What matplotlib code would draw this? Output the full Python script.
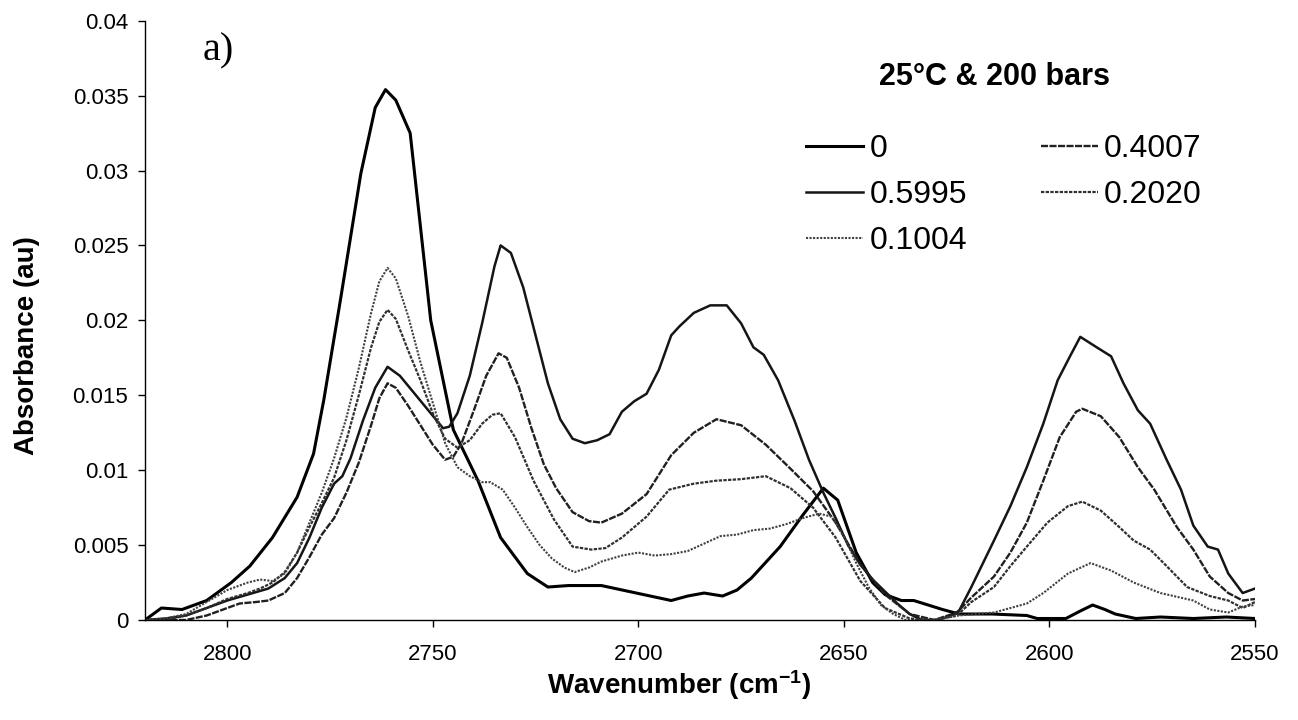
import matplotlib
matplotlib.use('Agg')
import matplotlib.pyplot as plt
from matplotlib.ticker import FuncFormatter

plt.rcParams['font.family'] = ['Liberation Sans', 'DejaVu Sans']
plt.rcParams['mathtext.fontset'] = 'custom'
plt.rcParams['mathtext.rm'] = 'Liberation Sans'
plt.rcParams['mathtext.bf'] = 'Liberation Sans:bold'

# mole fraction 0
wn_0 = [2820, 2816, 2811, 2805, 2799, 2794.5, 2789, 2783, 2779, 2776.5, 2772.5, 2767.5,
        2764, 2761.5, 2759, 2755.5, 2750.5, 2745, 2739, 2733.5, 2727, 2722, 2717, 2709,
        2700.5, 2692, 2688, 2684, 2679.5, 2676, 2672.5, 2665.5, 2660, 2655, 2651.5, 2647,
        2643, 2640, 2636, 2633, 2629.5, 2626, 2622, 2614, 2605.5, 2603, 2596, 2592.5,
        2589.5, 2586.5, 2584, 2579, 2573, 2565, 2557, 2550]
abs_0 = [0, 0.0008, 0.0007, 0.0013, 0.0025, 0.0036, 0.0055, 0.0082, 0.0111, 0.0147, 0.0213, 0.0298,
         0.0342, 0.0354, 0.0347, 0.0325, 0.0200, 0.0127, 0.0093, 0.0055, 0.0031, 0.0022, 0.0023, 0.0023,
         0.0018, 0.0013, 0.0016, 0.0018, 0.0016, 0.0020, 0.0028, 0.0049, 0.0070, 0.0088, 0.0080, 0.0045,
         0.0025, 0.0017, 0.0013, 0.0013, 0.0010, 0.0007, 0.0004, 0.0004, 0.0003, 0.0001, 0.0001, 0.0006,
         0.0010, 0.0007, 0.0004, 0.0001, 0.0002, 0.0001, 0.0002, 0.0001]

# mole fraction 0.5995
wn_5995 = [2820, 2815, 2810, 2805, 2800, 2795, 2790, 2786, 2783, 2780, 2777, 2774, 2772, 2770,
           2767, 2764, 2761, 2758, 2755, 2752, 2749, 2747.5, 2746, 2744, 2741, 2738, 2735, 2733.5,
           2731, 2728, 2725, 2722, 2719, 2716, 2713, 2710, 2707, 2704, 2701, 2698, 2695, 2692,
           2690, 2686.5, 2682.5, 2678.5, 2675, 2672, 2669.5, 2666, 2662, 2658.5, 2655, 2652, 2649,
           2646, 2643, 2640, 2637, 2634, 2631, 2627, 2624, 2622, 2619, 2613.5, 2609.5, 2605.5,
           2601.5, 2598, 2595, 2592.5, 2588.5, 2585, 2582, 2578.5, 2575.5, 2571.5, 2568, 2565,
           2561.5, 2559, 2556.5, 2553, 2550]
abs_5995 = [0, 0.0001, 0.0003, 0.0008, 0.0013, 0.0017, 0.0021, 0.0028, 0.0038, 0.0055, 0.0075, 0.0091, 0.0096, 0.0108,
            0.0133, 0.0155, 0.0169, 0.0163, 0.0153, 0.0143, 0.0133, 0.0128, 0.0129, 0.0138, 0.0163, 0.0198, 0.0236, 0.0250,
            0.0245, 0.0222, 0.0190, 0.0158, 0.0134, 0.0121, 0.0118, 0.0120, 0.0124, 0.0139, 0.0146, 0.0151, 0.0167, 0.0190,
            0.0196, 0.0205, 0.0210, 0.0210, 0.0198, 0.0182, 0.0177, 0.0160, 0.0133, 0.0107, 0.0085, 0.0068, 0.0050,
            0.0037, 0.0027, 0.0019, 0.0011, 0.0004, 0.0, 0.0, 0.0003, 0.0006, 0.0022, 0.0053, 0.0076, 0.0102,
            0.0131, 0.0160, 0.0176, 0.0189, 0.0182, 0.0176, 0.0158, 0.0140, 0.0131, 0.0107, 0.0087, 0.0063,
            0.0049, 0.0047, 0.0031, 0.0018, 0.0021]

# mole fraction 0.4007
wn_4007 = [2820, 2815, 2810, 2805, 2800, 2797, 2793, 2790, 2786, 2783, 2780, 2777, 2774, 2771,
           2768, 2765, 2763, 2761, 2759, 2756, 2753, 2750, 2747, 2745, 2743, 2740, 2737, 2734,
           2732, 2729, 2726, 2723, 2720, 2716, 2712, 2709, 2704, 2698, 2692, 2686.5, 2681, 2675,
           2669, 2663, 2657.5, 2652, 2646, 2640, 2634, 2628, 2622.5, 2619, 2613.5, 2609.5, 2605.5,
           2601.5, 2597.5, 2593.5, 2592, 2587.5, 2583, 2578.5, 2574.5, 2569, 2565, 2561, 2556.5,
           2553, 2550]
abs_4007 = [0, 0, 0, 0.0003, 0.0008, 0.0011, 0.0012, 0.0013, 0.0018, 0.0028, 0.0042, 0.0057, 0.0068, 0.0085,
            0.0105, 0.0130, 0.0148, 0.0158, 0.0155, 0.0143, 0.0130, 0.0117, 0.0107, 0.0109, 0.0118, 0.0140, 0.0163, 0.0178,
            0.0175, 0.0155, 0.0128, 0.0104, 0.0088, 0.0072, 0.0066, 0.0065, 0.0071, 0.0084, 0.0110, 0.0125, 0.0134, 0.0130,
            0.0117, 0.0101, 0.0086, 0.0065, 0.0037, 0.0017, 0.0004, 0.0, 0.0005, 0.0015, 0.0029, 0.0045, 0.0065,
            0.0093, 0.0122, 0.0139, 0.0141, 0.0136, 0.0122, 0.0102, 0.0087, 0.0062, 0.0047, 0.0029, 0.0018,
            0.0013, 0.0014]

# mole fraction 0.2020
wn_2020 = [2820, 2815, 2810, 2805, 2800, 2795, 2792, 2789, 2786, 2783, 2780, 2777, 2774, 2771,
           2768, 2765, 2763, 2761, 2759, 2756, 2753, 2750, 2747, 2744, 2741, 2738, 2735.5, 2733.5,
           2730, 2725.5, 2720.5, 2716, 2711.5, 2708, 2704, 2698, 2692.5, 2686.5, 2681, 2675, 2669,
           2663, 2657.5, 2652, 2646, 2640, 2634, 2628, 2622.5, 2619, 2613.5, 2609.5, 2605.5, 2600.5,
           2595.5, 2592, 2587.5, 2583, 2579.5, 2575.5, 2571.5, 2566.5, 2561, 2556.5, 2553, 2550]
abs_2020 = [0, 0, 0.0003, 0.0008, 0.0014, 0.0018, 0.0021, 0.0025, 0.0032, 0.0045, 0.0062, 0.0078, 0.0095, 0.0120,
            0.0150, 0.0182, 0.0199, 0.0207, 0.0201, 0.0180, 0.0160, 0.0138, 0.0121, 0.0115, 0.0120, 0.0131, 0.0137, 0.0138,
            0.0122, 0.0093, 0.0067, 0.0049, 0.0047, 0.0048, 0.0055, 0.0069, 0.0087, 0.0091, 0.0093, 0.0094, 0.0096,
            0.0088, 0.0075, 0.0055, 0.0026, 0.0008, 0.0001, 0.0, 0.0003, 0.0012, 0.0022, 0.0036, 0.0049, 0.0065,
            0.0076, 0.0079, 0.0073, 0.0062, 0.0053, 0.0047, 0.0036, 0.0022, 0.0016, 0.0013, 0.0008, 0.0012]

# mole fraction 0.1004
wn_1004 = [2820, 2815, 2810, 2805, 2800, 2795, 2792, 2789, 2786, 2783, 2780, 2777, 2774, 2771,
           2768, 2765, 2763, 2761, 2759, 2756, 2753, 2750, 2747, 2744, 2741, 2738, 2736, 2733,
           2730, 2727, 2724, 2721, 2718, 2715.5, 2712, 2709, 2704, 2700, 2696, 2692, 2688, 2684,
           2680, 2676, 2672, 2668, 2664, 2660, 2656, 2653, 2650, 2647, 2644, 2641, 2638, 2635,
           2628, 2622, 2613.5, 2605.5, 2601.5, 2595.5, 2590, 2585, 2579.5, 2573, 2565, 2561,
           2556.5, 2553, 2550]
abs_1004 = [0, 0.0001, 0.0004, 0.0012, 0.0020, 0.0025, 0.0027, 0.0026, 0.0031, 0.0045, 0.0065, 0.0085, 0.0108, 0.0135,
            0.0168, 0.0205, 0.0226, 0.0235, 0.0228, 0.0203, 0.0172, 0.0145, 0.0118, 0.0102, 0.0096, 0.0092, 0.0092, 0.0087,
            0.0075, 0.0062, 0.0050, 0.0041, 0.0035, 0.0032, 0.0035, 0.0039, 0.0043, 0.0045, 0.0043, 0.0044, 0.0046, 0.0051,
            0.0056, 0.0057, 0.0060, 0.0061, 0.0064, 0.0068, 0.0071, 0.0069, 0.0056, 0.0038, 0.0022, 0.0010, 0.0004, 0.0,
            0.0, 0.0003, 0.0005, 0.0011, 0.0018, 0.0031, 0.0038, 0.0033, 0.0025, 0.0018, 0.0013, 0.0007,
            0.0005, 0.0009, 0.0010]

fig = plt.figure(figsize=(12.98, 7.2), dpi=100)
ax = fig.add_axes([145/1298, 1 - 620/720, 1110/1298, 599.3/720])

l0, = ax.plot(wn_0, abs_0, color='black', lw=2.2, label='0')
l5, = ax.plot(wn_5995, abs_5995, color='#151515', lw=1.8, label='0.5995')
l4, = ax.plot(wn_4007, abs_4007, color='#202020', lw=1.7, ls=(0, (3, 0.6)), label='0.4007')
l2, = ax.plot(wn_2020, abs_2020, color='#303030', lw=1.6, ls=(0, (1.5, 0.6)), label='0.2020')
l1, = ax.plot(wn_1004, abs_1004, color='#404040', lw=1.5, ls=(0, (1, 0.7)), label='0.1004')

ax.set_xlim(2820, 2550)
ax.set_ylim(0, 0.04)
ax.set_xticks([2800, 2750, 2700, 2650, 2600, 2550])
ax.set_yticks([i * 0.005 for i in range(9)])
ax.yaxis.set_major_formatter(FuncFormatter(lambda v, p: '%g' % round(v, 3)))
ax.tick_params(direction='out', length=5, width=1, labelsize=16, colors='black')
ax.tick_params(axis='y', pad=7)
ax.tick_params(axis='x', pad=12)
for s in ['top', 'right']:
    ax.spines[s].set_visible(False)
for s in ['left', 'bottom']:
    ax.spines[s].set_linewidth(1)

ax.set_xlabel('Wavenumber (cm$\\mathbf{^{-1}}$)', fontsize=20, fontweight='bold')
ax.xaxis.set_label_coords((679 - 145) / 1110, -(668 - 620) / 599.3)
ax.set_ylabel('Absorbance (au)', fontsize=20, fontweight='bold')
ax.yaxis.set_label_coords(-(145 - 27) / 1110, (620 - 346) / 599.3)
ax.yaxis.label.set_va('center')

ax.legend([l0, l5, l1, l4, l2], ['0', '0.5995', '0.1004', '0.4007', '0.2020'],
          ncol=2, frameon=False, fontsize=23, loc='upper left',
          bbox_to_anchor=(806/1298, 1 - 134/720), bbox_transform=fig.transFigure,
          borderpad=0, borderaxespad=0, handlelength=1.79, handletextpad=0.2,
          columnspacing=2.3, labelspacing=0.5)

fig.text(995/1298, 1 - 85/720, '25°C & 200 bars', fontsize=22, fontweight='bold',
         ha='center', va='baseline')
fig.text(203/1298, 1 - 60/720, 'a)', fontsize=29, family='Liberation Serif',
         ha='left', va='baseline')

fig.savefig('out.png', dpi=100)
